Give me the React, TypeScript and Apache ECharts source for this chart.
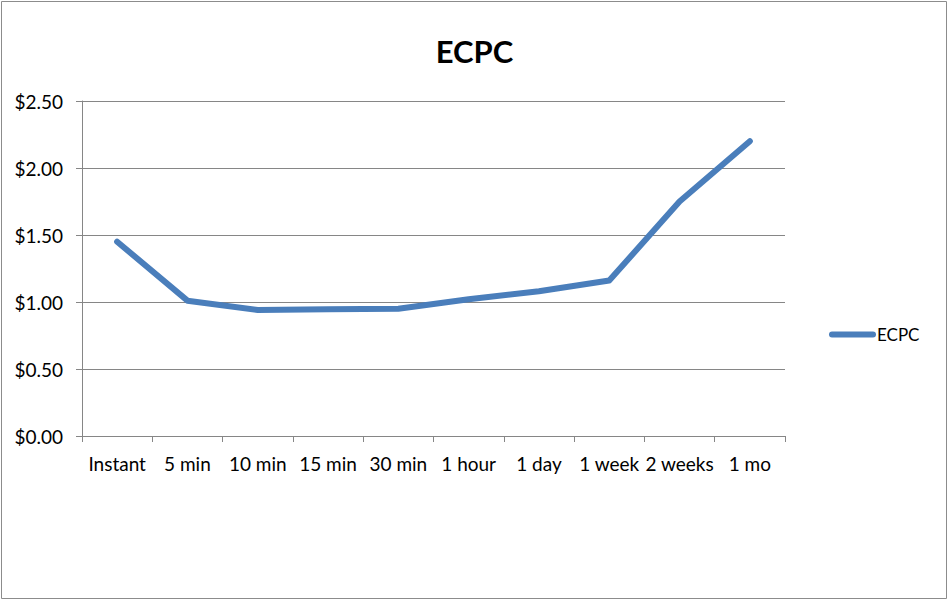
import React, { useEffect, useRef } from "react";
import * as echarts from "echarts";

const categories = ["Instant", "5 min", "10 min", "15 min", "30 min", "1 hour", "1 day", "1 week", "2 weeks", "1 mo"];
const ecpcValues = [1.45, 1.01, 0.94, 0.945, 0.95, 1.02, 1.08, 1.16, 1.75, 2.2];
const seriesName = "ECPC";
const chartTitle = "ECPC";
const yMin = 0;
const yMax = 2.5;
const yInterval = 0.5;

const FONT = "Lato, 'Liberation Sans', sans-serif";
const GRAY = "#868686";

export default function App() {
  const ref = useRef<HTMLDivElement>(null);
  useEffect(() => {
    if (!ref.current) return;
    const chart = echarts.init(ref.current, undefined, { renderer: "svg" });
    chart.setOption({
      animation: false,
      backgroundColor: "#ffffff",
      title: {
        text: chartTitle,
        left: "center",
        top: 30,
        textStyle: { fontFamily: FONT, fontSize: 31, fontWeight: "bold", color: "#000" },
      },
      legend: {
        data: [{ name: seriesName, icon: "path://M3,0 L44,0 A3,3 0 0 1 44,6 L3,6 A3,3 0 0 1 3,0 Z" }],
        left: 829,
        top: 326,
        padding: 0,
        itemWidth: 47,
        itemHeight: 6,
        textStyle: { fontFamily: FONT, fontSize: 17, color: "#000", padding: [0, 0, 0, -4] },
      },
      grid: { left: 82, right: 164, top: 101, bottom: 165, containLabel: false },
      xAxis: {
        type: "category",
        data: categories,
        boundaryGap: true,
        axisLine: { lineStyle: { color: GRAY, width: 1 } },
        axisTick: { show: true, length: 6, lineStyle: { color: GRAY } },
        axisLabel: { interval: 0, margin: 18, fontFamily: FONT, fontSize: 19, color: "#000" },
        splitLine: { show: false },
      },
      yAxis: {
        type: "value",
        min: yMin,
        max: yMax,
        interval: yInterval,
        axisLine: { show: true, lineStyle: { color: GRAY, width: 1 } },
        axisTick: { show: true, length: 6, lineStyle: { color: GRAY } },
        axisLabel: {
          margin: 19,
          fontFamily: FONT,
          fontSize: 19,
          color: "#000",
          formatter: (v: number) => "$" + v.toFixed(2),
        },
        splitLine: { show: true, lineStyle: { color: GRAY, width: 1 } },
      },
      series: [
        {
          name: seriesName,
          type: "line",
          data: ecpcValues,
          showSymbol: false,
          symbol: "none",
          color: "#4A7EBB",
          lineStyle: { color: "#4A7EBB", width: 6, cap: "round", join: "round" },
        },
      ],
      graphic: [
        {
          type: "rect",
          shape: { x: 1.5, y: 1.5, width: 945, height: 597 },
          style: { fill: "none", stroke: "#8c8c8c", lineWidth: 1 },
          silent: true,
        },
      ],
    });
    return () => chart.dispose();
  }, []);
  return (
    <div
      ref={ref}
      style={{ position: "absolute", left: 0, top: 0, width: 949, height: 601 }}
    />
  );
}
